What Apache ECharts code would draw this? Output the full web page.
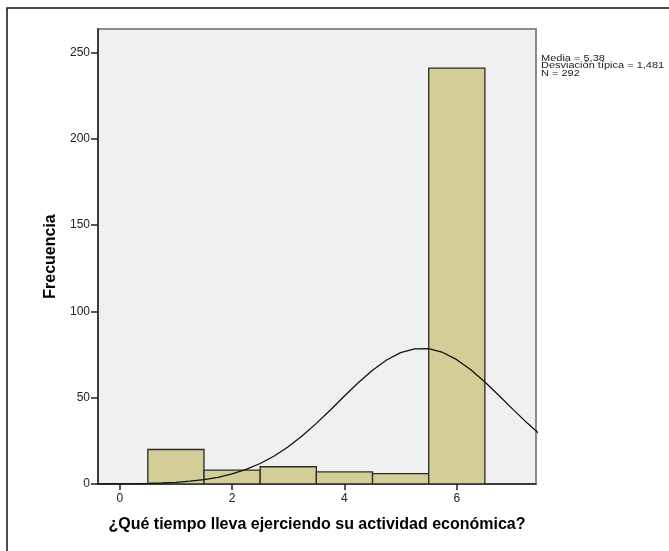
<!DOCTYPE html>
<html>
<head>
<meta charset="utf-8">
<script src="https://cdn.jsdelivr.net/npm/echarts@6/dist/echarts.min.js"></script>
<style>
html,body{margin:0;padding:0;background:#fff;}
#chart{width:669px;height:551px;}
</style>
</head>
<body>
<div id="chart"></div>
<script>
// Histogram data
const binCenters = [1, 2, 3, 4, 5, 6];
const counts = [20, 8, 10, 7, 6, 241];
const binWidth = 1;
// Normal curve, values
const curveX = [-0.5, -0.25, 0, 0.25, 0.5, 0.75, 1, 1.25, 1.5, 1.75, 2, 2.25, 2.5, 2.75, 3, 3.25, 3.5, 3.75,
                4, 4.25, 4.5, 4.75, 5, 5.25, 5.5, 5.75, 6, 6.25, 6.5, 6.75, 7, 7.25, 7.5];
const curveY = [0.03, 0.06, 0.11, 0.20, 0.35, 0.59, 0.99, 1.61, 2.54, 3.90, 5.82, 8.43, 11.87, 16.25, 21.63, 27.96, 35.14, 42.92,
                50.96, 58.78, 65.93, 71.85, 76.10, 78.35, 78.39, 76.23, 72.05, 66.18, 59.09, 51.27, 43.24, 35.44, 28.24];
// Ticks
const xTicks = [0, 2, 4, 6];
const yTicks = [0, 50, 100, 150, 200, 250];
const statsLines = ['Media = 5,38', 'Desviación típica = 1,481', 'N = 292'];
const xTitle = '¿Qué tiempo lleva ejerciendo su actividad económica?';
const yTitle = 'Frecuencia';

const chart = echarts.init(document.getElementById('chart'), null, {renderer: 'canvas'});
const font = 'Liberation Sans, Arial, sans-serif';

const option = {
  backgroundColor: '#ffffff',
  animation: false,
  grid: {
    left: 98, right: 133, top: 29, bottom: 67,
    show: true, backgroundColor: '#f0f0f0', borderColor: '#8c8c8c', borderWidth: 2
  },
  xAxis: {
    type: 'value', min: -0.387, max: 7.41,
    name: xTitle, nameLocation: 'middle', nameGap: 33,
    nameTextStyle: {fontFamily: font, fontSize: 16, fontWeight: 'bold', color: '#000'},
    axisLine: {show: true, onZero: false, lineStyle: {color: '#222', width: 1.5}},
    axisTick: {show: true, length: 6, lineStyle: {color: '#222', width: 1.5}, customValues: xTicks},
    axisLabel: {fontFamily: font, fontSize: 12, color: '#222', margin: 9, customValues: xTicks},
    splitLine: {show: false}
  },
  yAxis: {
    type: 'value', min: 0, max: 263.7,
    name: yTitle, nameLocation: 'middle', nameGap: 38,
    nameTextStyle: {fontFamily: font, fontSize: 16, fontWeight: 'bold', color: '#000'},
    axisLine: {show: true, onZero: false, lineStyle: {color: '#222', width: 1.5}},
    axisTick: {show: true, length: 7, lineStyle: {color: '#222', width: 1.5}, customValues: yTicks},
    axisLabel: {fontFamily: font, fontSize: 12, color: '#222', margin: 8, customValues: yTicks},
    splitLine: {show: false}
  },
  series: [
    {
      type: 'custom',
      data: binCenters.map((c, i) => [c, counts[i]]),
      renderItem: function (params, api) {
        const c = api.value(0), v = api.value(1);
        const p0 = api.coord([c - binWidth / 2, 0]);
        const p1 = api.coord([c + binWidth / 2, v]);
        return {
          type: 'rect',
          shape: {x: p0[0], y: p1[1], width: p1[0] - p0[0], height: p0[1] - p1[1]},
          style: {fill: '#d3ce98', stroke: '#2a2a2a', lineWidth: 1.3}
        };
      },
      clip: true,
      z: 2
    },
    {
      type: 'line',
      data: curveX.map((x, i) => [x, curveY[i]]),
      smooth: false,
      showSymbol: false,
      clip: true,
      lineStyle: {color: '#111', width: 1.3},
      z: 3
    }
  ],
  graphic: [
    {
      type: 'rect', silent: true,
      shape: {x: 7, y: 8, width: 700, height: 600},
      style: {fill: 'none', stroke: '#111', lineWidth: 1.5}, z: 100
    },
    {
      type: 'text', left: 541, top: 53, silent: true,
      scaleY: 0.88,
      style: {text: statsLines.join('\n'), font: '11px ' + font, fill: '#222', lineHeight: 9}
    }
  ]
};
chart.setOption(option);
</script>
</body>
</html>
